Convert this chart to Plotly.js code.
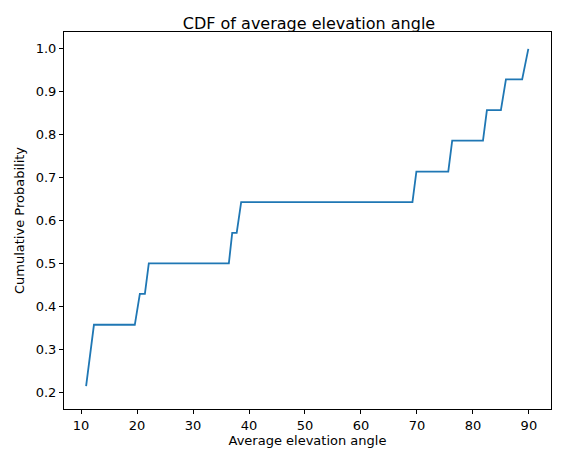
<!DOCTYPE html>
<html>
<head>
<meta charset="utf-8">
<script src="https://cdn.plot.ly/plotly-3.0.1.min.js"></script>
<style>body{margin:0;}</style>
</head>
<body>
<div id="chart" style="width:567px;height:455px;"></div>
<script>
// sorted elevation angles and their cumulative probability
const angles = [10.9, 12.3, 19.6, 20.5, 21.4, 22.1, 36.4, 37.0, 37.8, 38.6,
  69.2, 69.9, 75.6, 76.3, 81.8, 82.5, 85.0, 85.9, 88.8, 89.9];
const cdf = [0.214, 0.357, 0.357, 0.429, 0.429, 0.5, 0.5, 0.571, 0.571, 0.643,
  0.643, 0.714, 0.714, 0.786, 0.786, 0.857, 0.857, 0.929, 0.929, 1.0];
const xTicks = [10, 20, 30, 40, 50, 60, 70, 80, 90];
const yTicks = [0.2, 0.3, 0.4, 0.5, 0.6, 0.7, 0.8, 0.9, 1.0];

const trace = {
  x: angles,
  y: cdf,
  type: "scatter",
  mode: "lines",
  line: { color: "#1f77b4", width: 1.8 },
};

const axisStyle = {
  showgrid: false,
  zeroline: false,
  showline: true,
  mirror: true,
  automargin: false,
  linecolor: "black",
  linewidth: 1,
  ticks: "outside",
  ticklen: 4,
  tickcolor: "black",
  tickfont: { size: 13, color: "black" },
};

const layout = {
  width: 567,
  height: 455,
  margin: { l: 64, r: 16, t: 32, b: 46 },
  paper_bgcolor: "white",
  plot_bgcolor: "white",
  font: { family: "DejaVu Sans", color: "black" },
  showlegend: false,
  title: { text: "CDF of average elevation angle", x: 0.545, y: 0.96, font: { size: 16 } },
  xaxis: Object.assign({}, axisStyle, {
    range: [6.95, 93.95],
    tickvals: xTicks,
    ticktext: xTicks.map(String),
    title: { text: "Average elevation angle", font: { size: 13 }, standoff: 4 },
  }),
  yaxis: Object.assign({}, axisStyle, {
    range: [0.1607, 1.0393],
    tickvals: yTicks,
    ticktext: yTicks.map((v) => v.toFixed(1)),
    title: { text: "Cumulative Probability", font: { size: 13 }, standoff: 8 },
  }),
};

Plotly.newPlot("chart", [trace], layout, { displayModeBar: false });
</script>
</body>
</html>
